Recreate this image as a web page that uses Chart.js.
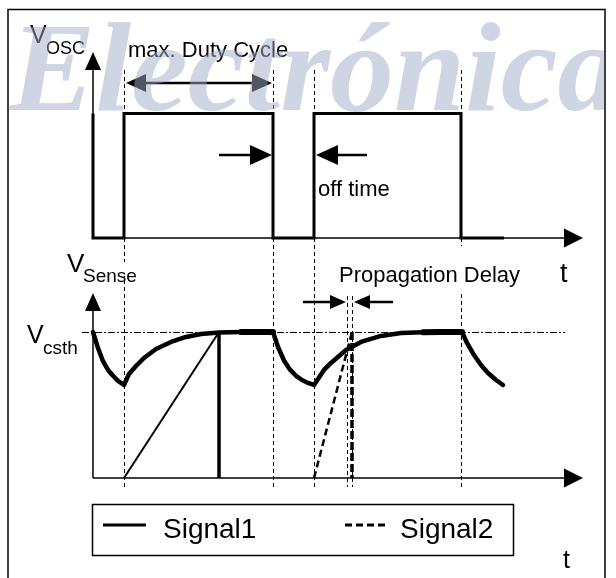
<!DOCTYPE html>
<html>
<head>
<meta charset="utf-8">
<script src="https://cdn.jsdelivr.net/npm/chart.js@4.4.0/dist/chart.umd.min.js"></script>
<style>
  html, body { margin: 0; padding: 0; background: #fff; }
  canvas { display: block; }
</style>
</head>
<body>
<canvas id="timing" width="616" height="578"></canvas>
<script>
// Time axis, same units for both traces (0 = y axis)
const edgeTimes = [31, 180, 221, 368];   // rise / fall of V_OSC
const delayTimes = [254, 259];           // propagation delay markers

// V_OSC (0 = low, 1 = high)
const oscTime  = [0, 0, 31, 31, 180, 180, 221, 221, 368, 368, 411];
const oscLevel = [1, 0, 0, 1, 1, 0, 0, 1, 1, 0, 0];

// V_Sense, in units of V_csth
const senseTime = [0, 5, 10, 15, 20, 25, 31,
    36, 43, 51, 63, 78, 93, 108, 126, 148, 159, 180,
    185, 191, 197, 203, 209, 215, 221,
    231, 238, 253, 268, 288, 308, 330, 348, 369,
    374, 381, 388, 395, 403, 410];
const senseLevel = [1.0, 0.89, 0.80, 0.74, 0.70, 0.665, 0.637,
    0.712, 0.767, 0.822, 0.884, 0.932, 0.966, 0.986, 0.997, 1.0, 1.0, 1.0,
    0.897, 0.805, 0.742, 0.700, 0.671, 0.651, 0.637,
    0.740, 0.788, 0.877, 0.932, 0.973, 0.993, 0.999, 1.0, 1.0,
    0.925, 0.842, 0.774, 0.719, 0.671, 0.637];

// current sense ramps
const sig1Time = [31, 126, 126];
const sig1Level = [0, 1, 0];
const sig2Time = [221, 259, 259];
const sig2Level = [0, 1, 0];

const legendLabels = ['Signal1', 'Signal2'];

const FONT = '"Liberation Sans", Arial, Helvetica, sans-serif';

function toPoints(xs, ys) {
    return xs.map((x, i) => ({ x: x, y: ys[i] }));
}

function tri(ctx, x, y, dir, len, half) {
    ctx.beginPath();
    ctx.moveTo(x, y);
    if (dir === 'right') { ctx.lineTo(x - len, y - half); ctx.lineTo(x - len, y + half); }
    if (dir === 'left')  { ctx.lineTo(x + len, y - half); ctx.lineTo(x + len, y + half); }
    if (dir === 'up')    { ctx.lineTo(x - half, y + len); ctx.lineTo(x + half, y + len); }
    ctx.closePath();
    ctx.fill();
}

function seg(ctx, x1, y1, x2, y2, w, dash) {
    ctx.save();
    ctx.lineWidth = w;
    ctx.setLineDash(dash || []);
    ctx.beginPath();
    ctx.moveTo(x1, y1);
    ctx.lineTo(x2, y2);
    ctx.stroke();
    ctx.restore();
}

function text(ctx, str, x, y, size) {
    ctx.font = size + 'px ' + FONT;
    ctx.fillText(str, x, y);
}

const diagram = {
    id: 'diagram',
    beforeDraw(chart) {
        const ctx = chart.ctx;
        ctx.save();
        ctx.fillStyle = '#fff';
        ctx.fillRect(0, 0, chart.width, chart.height);
        ctx.strokeStyle = '#000';
        ctx.lineWidth = 1.5;
        ctx.strokeRect(8, 9.5, 597, 600);
        ctx.restore();
    },
    beforeDatasetsDraw(chart) {
        const ctx = chart.ctx;
        const xs = chart.scales.x, yo = chart.scales.yOsc, ys = chart.scales.ySense;
        const x0 = xs.getPixelForValue(0);
        ctx.save();
        ctx.strokeStyle = '#000';
        ctx.fillStyle = '#000';

        // axes with arrows
        const oscBase = yo.getPixelForValue(0);
        const senseBase = ys.getPixelForValue(0);
        seg(ctx, x0, oscBase, x0, 66, 1.5);
        tri(ctx, x0, 52, 'up', 18, 8);
        seg(ctx, x0, oscBase, 566, oscBase, 1.5);
        tri(ctx, 583, oscBase, 'right', 19, 9.5);
        seg(ctx, x0, senseBase, x0, 306, 1.5);
        tri(ctx, x0, 293, 'up', 18, 8);
        seg(ctx, x0, senseBase, 566, senseBase, 1.5);
        tri(ctx, 583, senseBase, 'right', 19, 9.5);

        // edge markers
        edgeTimes.forEach(t => {
            const px = Math.round(xs.getPixelForValue(t)) + 0.5;
            seg(ctx, px, 70, px, senseBase + 9, 1, [4, 3]);
        });
        delayTimes.forEach(t => {
            const px = Math.round(xs.getPixelForValue(t)) + 0.5;
            seg(ctx, px, 296, px, senseBase + 9, 1, [4, 3]);
        });

        // V_csth threshold
        const th = Math.round(ys.getPixelForValue(1)) + 0.5;
        seg(ctx, 82, th, 565, th, 1, [7, 2, 2, 2]);

        // label backgrounds
        ctx.fillStyle = '#fff';
        ctx.fillRect(337, 246, 186, 48);
        ctx.fillRect(82, 262, 56, 14);
        ctx.restore();
    },
    afterDatasetsDraw(chart) {
        const ctx = chart.ctx;
        const xs = chart.scales.x;
        ctx.save();
        ctx.fillStyle = '#000';
        ctx.strokeStyle = '#000';
        ctx.textBaseline = 'alphabetic';

        // duty cycle double arrow
        const r1 = xs.getPixelForValue(edgeTimes[0]);
        const f1 = xs.getPixelForValue(edgeTimes[1]);
        const r2 = xs.getPixelForValue(edgeTimes[2]);
        seg(ctx, r1 + 14, 83, f1 - 14, 83, 2.5);
        tri(ctx, r1 + 2, 83, 'left', 20, 9);
        tri(ctx, f1 - 1, 83, 'right', 20, 9);

        // off time arrows
        seg(ctx, 219, 155, f1 - 12, 155, 2.5);
        tri(ctx, f1 - 1, 155, 'right', 22, 10);
        seg(ctx, r2 + 12, 155, 367, 155, 2.5);
        tri(ctx, r2 + 2, 155, 'left', 22, 10);

        // propagation delay arrows
        const d1 = xs.getPixelForValue(delayTimes[0]);
        const d2 = xs.getPixelForValue(delayTimes[1]);
        seg(ctx, 303, 302, d1 - 8, 302, 2.5);
        tri(ctx, d1 - 1, 302, 'right', 16, 7);
        seg(ctx, d2 + 8, 302, 393, 302, 2.5);
        tri(ctx, d2 + 2, 302, 'left', 16, 7);

        // labels
        text(ctx, 'V', 30, 43, 25);
        text(ctx, 'OSC', 46, 54, 18);
        text(ctx, 'max. Duty Cycle', 128, 57, 22);
        text(ctx, 'off time', 318, 196, 22);
        text(ctx, 'V', 67, 272, 26);
        text(ctx, 'Sense', 83, 282, 19);
        text(ctx, 'V', 27, 343, 25);
        text(ctx, 'csth', 43, 354, 19);
        text(ctx, 'Propagation Delay', 339, 282, 22);
        text(ctx, 't', 560, 282, 27);
        text(ctx, 't', 563, 568, 25);

        // legend
        ctx.lineWidth = 1.5;
        ctx.strokeRect(92.5, 504.5, 421, 51);
        const sets = chart.data.datasets;
        const s1 = sets.find(d => d.label === legendLabels[0]);
        const s2 = sets.find(d => d.label === legendLabels[1]);
        ctx.strokeStyle = s1.borderColor;
        seg(ctx, 103, 525, 146, 525, 3, s1.borderDash);
        ctx.strokeStyle = s2.borderColor;
        seg(ctx, 345, 525, 385, 525, 3, s2.borderDash);
        text(ctx, legendLabels[0], 163, 538, 28);
        text(ctx, legendLabels[1], 400, 538, 28);
        ctx.restore();
    },
    afterDraw(chart) {
        // watermark
        const ctx = chart.ctx;
        ctx.save();
        ctx.beginPath();
        ctx.rect(9, 10, 595, 200);
        ctx.clip();
        ctx.font = 'bold italic 128px "Liberation Serif", "Times New Roman", serif';
        ctx.fillStyle = 'rgba(160, 172, 200, 0.5)';
        ctx.fillText('Electrónica', 10, 110);
        ctx.restore();
    }
};

new Chart(document.getElementById('timing'), {
    type: 'line',
    data: {
        datasets: [
            {
                label: 'V_OSC',
                data: toPoints(oscTime, oscLevel),
                yAxisID: 'yOsc',
                borderColor: '#000',
                borderWidth: 3,
                borderJoinStyle: 'miter',
                pointRadius: 0,
                tension: 0
            },
            {
                label: 'V_Sense',
                data: toPoints(senseTime, senseLevel),
                yAxisID: 'ySense',
                borderColor: '#000',
                borderWidth: 4.5,
                borderJoinStyle: 'round',
                borderCapStyle: 'round',
                pointRadius: 0,
                tension: 0,
                segment: {
                    borderWidth: c => (c.p0.parsed.y >= 0.999 && c.p1.parsed.y >= 0.999) ? 6 : 4.5
                }
            },
            {
                label: 'Signal1',
                data: toPoints(sig1Time, sig1Level),
                yAxisID: 'ySense',
                borderColor: '#000',
                borderWidth: 2,
                borderDash: [],
                pointRadius: 0,
                tension: 0,
                segment: {
                    borderWidth: c => c.p0.parsed.x === c.p1.parsed.x ? 3.5 : 2
                }
            },
            {
                label: 'Signal2',
                data: toPoints(sig2Time, sig2Level),
                yAxisID: 'ySense',
                borderColor: '#000',
                borderWidth: 2.5,
                borderDash: [7, 4],
                pointRadius: 0,
                tension: 0,
                segment: {
                    borderWidth: c => c.p0.parsed.x === c.p1.parsed.x ? 3.5 : 2.5,
                    borderDash: c => c.p0.parsed.x === c.p1.parsed.x ? [8, 3] : [7, 4]
                }
            }
        ]
    },
    options: {
        responsive: false,
        devicePixelRatio: 1,
        animation: false,
        layout: { padding: 0 },
        plugins: {
            legend: { display: false },
            tooltip: { enabled: false }
        },
        scales: {
            x: { type: 'linear', min: -93, max: 523, display: false },
            yOsc: { type: 'linear', min: -2.731, max: 1.912, display: false },
            ySense: { type: 'linear', min: -0.685, max: 3.274, display: false }
        }
    },
    plugins: [diagram]
});
</script>
</body>
</html>
